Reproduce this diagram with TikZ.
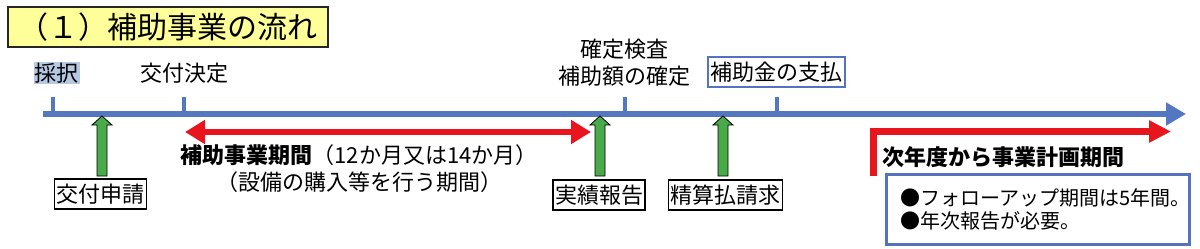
\documentclass[tikz,border=0pt]{standalone}
\usepackage{fontspec}
\newfontfamily\jp{Noto Sans CJK JP}
\usetikzlibrary{arrows.meta,calc}
\definecolor{axisblue}{RGB}{84,120,192}
\definecolor{boxblue}{RGB}{84,114,190}
\definecolor{arrred}{RGB}{232,20,30}
\definecolor{grn}{RGB}{72,170,72}
\definecolor{titleyellow}{RGB}{255,255,153}
\definecolor{hilite}{RGB}{182,201,226}
\tikzset{
  lab/.style={font=\jp\fontsize{22pt}{27pt}\selectfont, inner sep=1pt, align=center},
  blackbox/.style={lab, draw=black, line width=1.2pt, inner sep=2pt, minimum height=30pt},
  tick/.style={draw=axisblue, line width=4pt},
  garrow/.style={fill=grn, draw=black, line width=0.8pt, line join=miter},
  redline/.style={draw=arrred, line width=6.5pt, line join=miter},
}
\begin{document}
\begin{tikzpicture}[x=1pt,y=-1pt]
\useasboundingbox (0,0) rectangle (1200,249);
% title
\node[draw=black!85, line width=1.6pt, fill=titleyellow, minimum width=320pt, minimum height=40pt, inner sep=0pt,
      font=\jp\fontsize{30pt}{34pt}\selectfont] (title) at (168,27) {（１）補助事業の流れ};
% axis
\coordinate (axL) at (43,114);
\coordinate (axR) at (1186,114);
\draw[draw=axisblue, line width=6pt, -{Triangle[length=20pt,width=22pt]}] (axL) -- (axR);
\coordinate (t1) at (53,114);
\coordinate (t2) at (184,114);
\coordinate (t3) at (625,114);
\coordinate (t4) at (777,114);
\foreach \t in {t1,t2,t3,t4} { \draw[tick] (\t) -- ++(0,-17); }
% top labels
\node[lab, fill=hilite] (saitaku) at (56.5,73) {採択};
\node[lab] (kofukettei) at (184,73) {交付決定};
\node[lab] (kakutei) at (624,62.5) {確定検査\\補助額の確定};
\node[lab, draw=boxblue, line width=2.8pt, inner sep=2pt, minimum width=137pt, minimum height=30pt] (shiharai) at (776.5,72) {補助金の支払};
% bottom boxes
\node[blackbox] (shinsei) at (100.5,194) {交付申請};
\node[blackbox] (jisseki) at (599,195) {実績報告};
\node[blackbox] (seisan) at (725.5,195) {精算払請求};
% green block arrows
\foreach \b/\x in {shinsei/102, jisseki/600, seisan/723} {
  \draw[garrow] (\x,176) -- ++(-5,0) -- ++(0,-51) -- ++(-5,0) -- ++(10,-9) -- ++(10,9) -- ++(-5,0) -- ++(0,51) -- cycle;
}
% red double arrow
\coordinate (rL) at (185,132);
\coordinate (rR) at (591,132);
\draw[redline, {Triangle[length=20pt,width=23pt]}-{Triangle[length=20pt,width=23pt]}] (rL) -- (rR);
\node[lab, anchor=north] (kikan) at (359,143) {{\bfseries 補助事業期間}（12か月又は14か月）\\（設備の購入等を行う期間）};
% red L arrow
\coordinate (lS) at (873,176);
\coordinate (lE) at (1171,131.5);
\draw[redline, line width=7pt, -{Triangle[length=22pt,width=21pt]}] (lS) |- (lE);
\node[font=\jp\bfseries\fontsize{22pt}{26pt}\selectfont, anchor=west, inner sep=0pt] (jinendo) at (882,157) {次年度から事業計画期間};
% follow-up box
\node[draw=boxblue, line width=2.8pt, anchor=north west, minimum width=303pt, minimum height=70pt,
      inner xsep=14pt, inner ysep=4pt, text width=275pt, align=left,
      font=\jp\fontsize{20pt}{23pt}\selectfont] (follow) at (885,173)
      {●フォローアップ期間は5年間。\\●年次報告が必要。};
\end{tikzpicture}
\end{document}
